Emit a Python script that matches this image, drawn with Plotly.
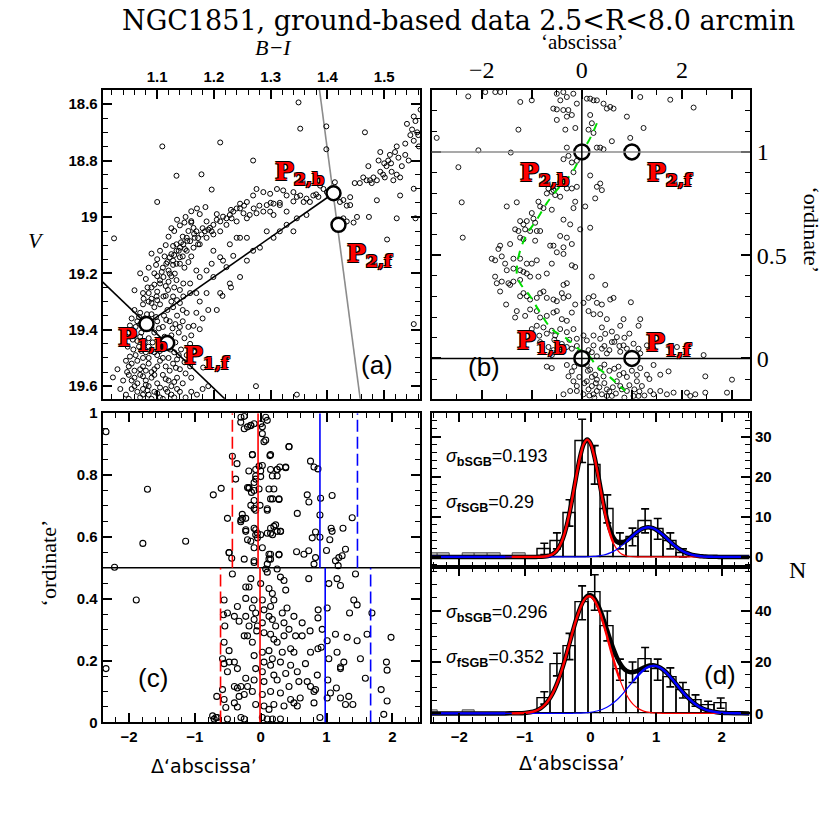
import plotly.graph_objects as go

# ---------------- DATA ----------------

# panel (a): colour-magnitude diagram, (B-I, V)
CMD_STARS = [
    (1.552, 18.644), (1.555, 18.66), (1.549, 18.69), (1.558, 18.70), (1.564, 18.62), (1.546, 18.71),
    (1.552, 18.73), (1.561, 18.75), (1.537, 18.74), (1.522, 18.75), (1.519, 18.77), (1.525, 18.79),
    (1.537, 18.78), (1.543, 18.80), (1.531, 18.82), (1.510, 18.78), (1.507, 18.80), (1.504, 18.82),
    (1.513, 18.84), (1.522, 18.85), (1.528, 18.86), (1.516, 18.87), (1.501, 18.86), (1.493, 18.84),
    (1.493, 18.77), (1.490, 18.80), (1.481, 18.86), (1.475, 18.87), (1.469, 18.87), (1.463, 18.86),
    (1.457, 18.88), (1.487, 18.87), (1.472, 18.82), (1.466, 18.70), (1.528, 18.924), (1.487, 18.941),
    (1.552, 18.90), (1.555, 19.005), (1.522, 19.005), (1.505, 19.08), (1.552, 19.38), (1.473, 19.00),
    (1.446, 19.02), (1.452, 19.00), (1.434, 18.96), (1.428, 18.94), (1.440, 18.93), (1.540, 18.67),
    (1.560, 18.71), (1.500, 18.81), (1.512, 18.81), (1.498, 18.85), (1.478, 18.88), (1.448, 18.88),
    (1.349, 18.594), (1.352, 18.687), (1.398, 18.679), (1.398, 18.76), (1.109, 18.75), (1.211, 18.736),
    (1.269, 18.80), (1.178, 18.849), (1.134, 18.854), (1.196, 18.903), (1.100, 18.947), (1.024, 19.076),
    (1.387, 18.889), (1.393, 18.901), (1.399, 18.912), (1.375, 18.924), (1.363, 18.935), (1.369, 18.947),
    (1.384, 18.929), (1.346, 18.929), (1.340, 18.912), (1.328, 18.924), (1.316, 18.958), (1.305, 18.953),
    (1.293, 18.958), (1.287, 18.912), (1.275, 18.901), (1.269, 18.924), (1.258, 18.947), (1.246, 18.953),
    (1.240, 18.970), (1.234, 18.981), (1.228, 18.993), (1.222, 19.005), (1.216, 18.999), (1.211, 19.016),
    (1.205, 19.010), (1.199, 19.028), (1.193, 19.039), (1.187, 19.016), (1.184, 19.051), (1.178, 19.062),
    (1.169, 19.051), (1.166, 19.074), (1.164, 19.039), (1.158, 19.086), (1.152, 19.074), (1.146, 19.097),
    (1.140, 19.109), (1.134, 19.120), (1.128, 19.103), (1.125, 19.132), (1.122, 19.143),
    (1.328, 18.981), (1.305, 18.993), (1.299, 18.981), (1.287, 18.981), (1.275, 18.987), (1.263, 18.993),
    (1.258, 19.005), (1.240, 19.016), (1.222, 19.028), (1.211, 19.051), (1.199, 19.062), (1.187, 19.074),
    (1.175, 19.097), (1.164, 19.109), (1.152, 19.120), (1.140, 19.143), (1.134, 19.166), (1.128, 19.155),
    (1.269, 19.120), (1.258, 19.074), (1.246, 19.074), (1.228, 19.097), (1.234, 19.138), (1.216, 19.155),
    (1.222, 19.178), (1.211, 19.143), (1.199, 19.120), (1.240, 19.074), (1.281, 19.109), (1.305, 19.074),
    (1.316, 19.051), (1.328, 19.028), (1.346, 19.005), (1.363, 18.993), (1.340, 19.051), (1.293, 19.051),
    (1.258, 19.155), (1.246, 19.213), (1.228, 19.236), (1.199, 19.213), (1.211, 19.270), (1.187, 19.270),
    (1.175, 19.213), (1.169, 19.190), (1.158, 19.270), (1.146, 19.282), (1.169, 19.340), (1.175, 19.398),
    (1.164, 19.386), (1.152, 19.340), (1.140, 19.305), (1.158, 19.236), (1.169, 19.270), (1.187, 19.190),
    (1.196, 19.166), (1.422, 18.947), (1.428, 19.005), (1.434, 19.016), (1.440, 18.958), (1.416, 18.929),
    (1.413, 18.877), (1.311, 18.901), (1.322, 18.906), (1.299, 18.918), (1.352, 18.924), (1.358, 18.947),
    (1.246, 18.970), (1.252, 18.987), (1.231, 19.005), (1.196, 19.051), (1.172, 19.097), (1.149, 19.114),
    (1.134, 19.097), (1.140, 19.166), (1.131, 19.201), (1.116, 19.166), (1.122, 19.201), (1.111, 19.213),
    (1.105, 19.236), (1.119, 19.259), (1.134, 19.224), (1.146, 19.236), (1.099, 19.282), (1.090, 19.305),
    (1.111, 19.282), (1.128, 19.282), (1.140, 19.259),
    (1.148, 19.02), (1.160, 19.015), (1.205, 18.99), (1.230, 18.975), (1.253, 18.96), (1.270, 18.97),
    (1.280, 18.96), (1.300, 18.95), (1.316, 18.95), (1.340, 18.945), (1.380, 18.92),
    (1.070, 19.20), (1.080, 19.22), (1.085, 19.18), (1.095, 19.24), (1.100, 19.21), (1.060, 19.26),
    (1.075, 19.27), (1.090, 19.29), (1.100, 19.15), (1.110, 19.18), (1.105, 19.12), (1.115, 19.10),
    (1.090, 19.13), (1.120, 19.07), (1.130, 19.05), (1.140, 19.03), (1.125, 19.04), (1.135, 19.01),
    (1.150, 19.00), (1.160, 18.98), (1.170, 18.97), (1.185, 18.965), (1.175, 18.99), (1.145, 19.07),
    (1.155, 19.05), (1.160, 19.02),
    (1.090, 19.25), (1.100, 19.265), (1.105, 19.225), (1.115, 19.245), (1.120, 19.23), (1.125, 19.21),
    (1.130, 19.25), (1.108, 19.195), (1.120, 19.19), (1.095, 19.20), (1.083, 19.25), (1.076, 19.29),
    (1.085, 19.27), (1.115, 19.28), (1.125, 19.30), (1.135, 19.295), (1.100, 19.295), (1.118, 19.16),
    (1.128, 19.17), (1.113, 19.14), (1.098, 19.17), (1.138, 19.12), (1.145, 19.14), (1.155, 19.16),
    (1.160, 19.14), (1.148, 19.18), (1.130, 19.135), (1.142, 19.09), (1.153, 19.085), (1.165, 19.06),
    (1.172, 19.075), (1.180, 19.04), (1.190, 19.045),
    (1.075, 19.31), (1.085, 19.30), (1.095, 19.32), (1.105, 19.31), (1.118, 19.33), (1.128, 19.32),
    (1.070, 19.34), (1.090, 19.345), (1.112, 19.35), (1.135, 19.35), (1.145, 19.33), (1.060, 19.33),
    (1.055, 19.36), (1.065, 19.37), (1.078, 19.36), (1.100, 19.37), (1.110, 19.39), (1.122, 19.37),
    (1.132, 19.38), (1.145, 19.37), (1.062, 19.39), (1.090, 19.395), (1.155, 19.39), (1.070, 19.38),
    (1.050, 19.41), (1.060, 19.42), (1.072, 19.41), (1.085, 19.43), (1.095, 19.41), (1.105, 19.44),
    (1.125, 19.42), (1.138, 19.41), (1.148, 19.43), (1.065, 19.44), (1.078, 19.445), (1.158, 19.45),
    (1.048, 19.46), (1.058, 19.47), (1.068, 19.46), (1.080, 19.48), (1.090, 19.47), (1.100, 19.49),
    (1.110, 19.46), (1.130, 19.48), (1.142, 19.47), (1.062, 19.49), (1.075, 19.50), (1.120, 19.50),
    (1.152, 19.49), (1.045, 19.51), (1.055, 19.52), (1.065, 19.51), (1.075, 19.53), (1.085, 19.52),
    (1.095, 19.54), (1.105, 19.51), (1.115, 19.53), (1.128, 19.52), (1.140, 19.54), (1.060, 19.545),
    (1.090, 19.55), (1.158, 19.53), (1.030, 19.54), (1.050, 19.56), (1.060, 19.57), (1.070, 19.56),
    (1.080, 19.58), (1.090, 19.57), (1.100, 19.59), (1.110, 19.56), (1.120, 19.58), (1.135, 19.57),
    (1.145, 19.59), (1.065, 19.59), (1.085, 19.60), (1.125, 19.60), (1.040, 19.58), (1.160, 19.57),
    (1.055, 19.61), (1.065, 19.62), (1.075, 19.61), (1.085, 19.63), (1.095, 19.62), (1.105, 19.64),
    (1.115, 19.61), (1.125, 19.63), (1.140, 19.62), (1.070, 19.64), (1.090, 19.645), (1.150, 19.64),
    (1.170, 19.63), (1.045, 19.63), (1.180, 19.61), (1.022, 19.569), (1.035, 19.61), (1.190, 19.60),
    (1.274, 19.60), (1.346, 19.63), (1.181, 19.534), (1.166, 19.479), (1.160, 19.42), (1.175, 19.30),
    (1.180, 19.36), (1.190, 19.33), (1.205, 19.33), (1.215, 19.28), (1.230, 19.25),
    (1.052, 19.385), (1.068, 19.355), (1.082, 19.345), (1.098, 19.355), (1.116, 19.365), (1.127, 19.395),
    (1.140, 19.39), (1.103, 19.395), (1.057, 19.435), (1.070, 19.425), (1.092, 19.445), (1.113, 19.425),
    (1.132, 19.445), (1.118, 19.455), (1.085, 19.46), (1.072, 19.475), (1.095, 19.48), (1.105, 19.475),
    (1.123, 19.47), (1.138, 19.49), (1.052, 19.495), (1.085, 19.50), (1.110, 19.50), (1.135, 19.505),
    (1.148, 19.515), (1.050, 19.53), (1.070, 19.54), (1.080, 19.545), (1.100, 19.53), (1.122, 19.545),
    (1.133, 19.535), (1.047, 19.55), (1.075, 19.565), (1.095, 19.56), (1.115, 19.575), (1.130, 19.585),
    (1.150, 19.555), (1.055, 19.58), (1.080, 19.595), (1.105, 19.605), (1.118, 19.62), (1.135, 19.61),
    (1.060, 19.60), (1.075, 19.63), (1.100, 19.625), (1.130, 19.64), (1.160, 19.62), (1.050, 19.645),
    (1.110, 19.645), (1.083, 19.615),
]

# fiducial points P1,b  P1,f  P2,b  P2,f in the CMD
P_BI = [1.0812, 1.1176, 1.4106, 1.4194]
P_V = [19.380, 19.447, 18.916, 19.028]

# straight lines in panel (a)
LINE_SGB_BI = [1.0812, 1.4106]
LINE_SGB_V = [19.380, 18.916]
LINE_P1_BI = [0.99, 1.23]
LINE_P1_V = [19.204, 19.666]
LINE_P2_BI = [1.3827, 1.4612]
LINE_P2_V = [18.50, 19.70]

# panel (b): verticalized diagram ('abscissa', 'ordinate')
VERT_STARS = [
    (-2.27, 1.269), (-1.93, 1.29), (-1.73, 1.29), (-1.63, 1.29), (-1.23, 1.242), (-1.0, 1.25),
    (-0.5, 1.282), (-0.43, 1.25), (-0.37, 1.29), (-0.3, 1.266), (-0.17, 1.282), (-0.1, 1.234),
    (-0.57, 1.21), (-0.5, 1.206), (-0.37, 1.203), (-0.27, 1.203), (-0.3, 1.171), (-0.2, 1.179),
    (-0.5, 1.155), (-0.33, 1.108), (-0.13, 1.116), (0.1, 1.258), (0.167, 1.258), (0.233, 1.25),
    (0.3, 1.25), (0.433, 1.234), (0.5, 1.21), (0.567, 1.218), (0.633, 1.21), (0.167, 1.179),
    (0.2, 1.139), (0.133, 1.108), (0.233, 1.092), (0.6, 1.052), (0.967, 1.068), (0.9, 1.171),
    (1.233, 1.116), (1.167, 1.266), (1.767, 1.253), (2.233, 1.215), (-1.267, 1.108), (-2.9, 1.068),
    (-2.067, 1.008), (-1.42, 0.997), (0.367, 1.021), (0.433, 1.013), (0.3, 1.021),
    (-2.467, 0.926), (-0.3, 1.021), (-0.267, 0.981), (-0.367, 0.965), (-0.2, 0.949), (-0.1, 0.957),
    (0.167, 0.886), (-0.167, 0.902), (0.367, 0.847), (0.4, 0.815), (0.3, 0.831), (-0.433, 0.854),
    (-0.5, 0.831), (-0.567, 0.815), (-0.6, 0.807), (-0.667, 0.823), (-0.7, 0.799), (-0.533, 0.791),
    (-0.3, 0.823), (-0.2, 0.823), (-0.1, 0.831), (-0.433, 0.783),
    (-2.4, 0.756), (-1.3, 0.756), (-1.5, 0.736), (-0.867, 0.759), (-0.833, 0.736), (-0.767, 0.728),
    (-0.6, 0.720), (-0.133, 0.759), (-0.167, 0.728), (0.067, 0.736), (0.267, 0.775), (-0.367, 0.672),
    (-0.233, 0.649), (-0.033, 0.625), (0.167, 0.633), (-1.0, 0.704), (-0.967, 0.677), (-0.933, 0.657),
    (-1.1, 0.665), (-1.167, 0.649), (-1.233, 0.665), (-1.333, 0.625), (-1.267, 0.617), (-1.133, 0.625),
    (-1.033, 0.617), (-0.9, 0.617), (-1.233, 0.585), (-1.167, 0.577), (-0.933, 0.570), (-0.833, 0.617),
    (-0.433, 0.593), (-0.3, 0.585), (-0.2, 0.554), (-2.38, 0.585), (-1.433, 0.554), (-1.633, 0.546),
    (-1.667, 0.530), (-0.633, 0.546), (-0.567, 0.546), (-0.367, 0.538),
    (-1.8, 0.483), (-1.733, 0.475), (-1.6, 0.494), (-1.533, 0.459), (-1.367, 0.483), (-1.233, 0.483),
    (-1.1, 0.459), (-1.0, 0.459), (-0.9, 0.475), (-0.6, 0.459), (-0.5, 0.514), (-0.367, 0.506),
    (-0.2, 0.451), (-0.133, 0.443), (-1.5, 0.427), (-1.367, 0.435), (-1.233, 0.427), (-1.167, 0.419),
    (-1.1, 0.411), (-1.733, 0.396), (-1.7, 0.364), (-1.6, 0.372), (-1.467, 0.364), (-1.367, 0.372),
    (-1.233, 0.380), (-1.033, 0.396), (-0.867, 0.396), (-0.7, 0.411), (0.2, 0.396), (0.467, 0.356),
    (-0.3, 0.364), (-0.367, 0.356), (-0.4, 0.316), (-1.633, 0.324), (-1.433, 0.356),
    (-1.233, 0.301), (-1.167, 0.316), (-1.1, 0.301), (-1.033, 0.285), (-0.9, 0.293), (-0.833, 0.316),
    (-0.767, 0.324), (-0.7, 0.293), (-0.567, 0.285), (-0.5, 0.277), (-0.367, 0.293), (-0.267, 0.301),
    (-1.513, 0.261), (-1.3, 0.229), (-1.333, 0.198), (-1.133, 0.206), (-1.033, 0.237), (-0.9, 0.229),
    (-0.833, 0.198), (-0.7, 0.206), (-0.567, 0.222), (-0.5, 0.229), (-0.4, 0.190), (-0.3, 0.182),
    (-0.2, 0.222), (-0.133, 0.261), (0.033, 0.269), (0.133, 0.293), (0.233, 0.301), (0.3, 0.269),
    (0.4, 0.261), (0.567, 0.285), (0.633, 0.293), (0.98, 0.272), (0.133, 0.229), (0.233, 0.214),
    (0.367, 0.214), (0.5, 0.190), (0.833, 0.190), (1.167, 0.190), (1.133, 0.158), (0.767, 0.158),
    (-1.0, 0.142), (-0.9, 0.158), (-0.767, 0.150), (-0.6, 0.134), (-0.533, 0.111), (-0.433, 0.142),
    (-0.3, 0.127), (-0.167, 0.142), (-0.1, 0.095), (0.033, 0.111), (0.1, 0.087), (0.233, 0.111),
    (0.367, 0.095), (0.467, 0.119), (0.6, 0.079), (0.7, 0.103), (0.833, 0.063), (1.033, 0.071),
    (1.133, 0.047), (1.3, 0.063), (1.433, 0.047), (1.767, 0.055), (1.9, 0.055), (2.433, 0.016),
    (-0.833, 0.079), (-0.667, 0.055), (-0.567, 0.040), (-0.433, 0.032), (-0.3, 0.055), (-0.2, 0.047),
    (0.133, 0.040), (0.233, 0.063), (0.4, 0.047), (0.5, 0.024), (0.767, 0.032), (0.9, 0.047),
    (1.167, 0.024), (-0.6, 0.016), (-0.5, 0.032),
    (-0.7, -0.040), (-0.6, -0.047), (-0.3, -0.032), (-0.2, -0.063), (-0.267, -0.087), (-0.167, -0.111),
    (-0.1, -0.134), (0.1, -0.032), (0.167, -0.055), (0.267, -0.079), (0.367, -0.047), (0.433, -0.087),
    (0.1, -0.111), (0.2, -0.134), (0.3, -0.158), (0.4, -0.174), (0.5, -0.150), (0.6, -0.182),
    (0.7, -0.111), (0.767, -0.134), (0.9, -0.158), (1.033, -0.182), (1.1, -0.111), (1.2, -0.134),
    (1.3, -0.079), (1.433, -0.032), (1.567, -0.158), (1.7, -0.174), (1.833, -0.166), (2.1, -0.166),
    (2.167, -0.182), (2.467, -0.087), (2.467, -0.166), (2.9, -0.166), (3.0, -0.103), (2.267, -0.174),
    (1.433, -0.174), (0.5, -0.182), (0.233, -0.174), (0.033, -0.174), (0.133, -0.150), (-0.1, -0.158),
    (-0.233, -0.158), (-0.367, -0.174), (1.133, -0.182), (1.367, -0.158), (0.3, -0.103), (0.833, -0.071),
    (0.733, -0.040), (1.167, -0.047), (1.567, -0.079), (1.733, -0.063),
    (0.05, -0.02), (0.12, -0.06), (0.2, -0.09), (0.28, -0.12), (0.35, -0.14), (0.45, -0.12),
    (0.55, -0.16), (0.62, -0.14), (0.68, -0.17), (0.8, -0.15), (0.85, -0.19), (0.95, -0.13),
    (1.05, -0.15), (1.15, -0.16), (1.25, -0.18), (1.35, -0.10), (0.45, -0.03), (0.55, -0.06),
    (0.65, -0.05), (0.75, -0.08), (0.9, -0.09), (1.0, -0.06), (1.1, -0.08), (0.25, -0.19),
    (0.15, -0.18), (0.05, -0.12), (-0.05, -0.09), (-0.15, -0.04), (0.1, 0.02), (0.2, 0.03),
    (0.3, 0.01), (0.45, 0.06), (0.55, 0.04), (0.65, 0.08), (0.75, 0.06), (0.85, 0.10),
    (0.95, 0.12), (1.05, 0.02), (0.6, 0.13), (0.4, 0.15), (-0.05, 0.03), (-0.1, 0.06),
    (-0.25, 0.09), (-0.4, 0.07), (-0.55, 0.09), (-0.7, 0.12), (-0.85, 0.11),
]

# fiducial points in panel (b)
PV_ABS = [0.0, 1.0, 0.0, 1.0]
PV_ORD = [0.0, 0.0, 1.0, 1.0]

# green fiducial line in panel (b)
FID_ABS = [0.30, 0.233, 0.133, 0.0, -0.1, -0.233, -0.367, -0.5, -0.7, -0.9, -1.1, -1.233, -1.287,
           -1.3, -1.233, -1.033, -0.833, -0.6, -0.3, -0.033, 0.133, 0.3, 0.567, 0.867]
FID_ORD = [1.139, 1.100, 1.052, 1.0, 0.941, 0.886, 0.854, 0.815, 0.752, 0.672, 0.601, 0.522, 0.459,
           0.411, 0.364, 0.301, 0.222, 0.142, 0.095, 0.040, 0.016, -0.040, -0.092, -0.158]

# panel (c): delta abscissa vs ordinate
DELTA_STARS = [
    (-2.35, 0.94), (-1.72, 0.754), (-1.79, 0.579), (-1.14, 0.586), (-0.72, 0.736), (-0.60, 0.757),
    (-0.505, 0.660), (-0.48, 0.549), (-0.44, 0.531), (-0.43, 0.480), (-0.43, 0.861), (-0.36, 0.837),
    (-0.38, 0.787), (-0.30, 0.987), (-0.25, 0.99), (-0.2, 0.956), (-0.15, 0.96), (-0.1, 0.966),
    (-0.126, 0.866), (-0.18, 0.813), (-0.2, 0.760), (-0.18, 0.757), (-0.14, 0.744), (-0.1, 0.776),
    (-0.076, 0.797), (-0.1, 0.718), (-0.076, 0.686), (-0.15, 0.702), (-0.28, 0.673), (-0.30, 0.655),
    (-0.227, 0.660), (-0.227, 0.623), (-0.2, 0.591), (-0.1, 0.628), (-0.076, 0.607), (-0.05, 0.597),
    (0.0, 0.607), (0.025, 0.565), (-0.1, 0.523), (0.0, 0.966), (0.025, 0.934), (0.076, 0.913),
    (0.025, 0.831), (0.0, 0.795), (-0.01, 0.702), (0.1, 0.691), (0.126, 0.755), (0.14, 0.863),
    (0.15, 0.818), (0.18, 0.723), (0.2, 0.755), (0.25, 0.818), (0.25, 0.797), (0.278, 0.723),
    (0.29, 0.826), (0.38, 0.826), (0.43, 0.892), (0.1, 0.612), (0.15, 0.628), (0.18, 0.607),
    (0.2, 0.634), (0.25, 0.618), (0.30, 0.618), (0.15, 0.544), (0.15, 0.528), (0.1, 0.512),
    (0.278, 0.544), (0.25, 0.496), (0.556, 0.676), (0.545, 0.552), (0.657, 0.544), (0.73, 0.555),
    (0.81, 0.512), (0.833, 0.533), (0.757, 0.845), (0.81, 0.826), (0.87, 0.820), (0.707, 0.736),
    (0.732, 0.713), (0.91, 0.725), (0.90, 0.671), (0.833, 0.616), (0.783, 0.597), (1.0, 0.556),
    (1.05, 0.591), (1.07, 0.628), (1.085, 0.618), (1.085, 0.734), (1.136, 0.523), (1.187, 0.533),
    (1.237, 0.539), (1.288, 0.560), (1.25, 0.628), (1.39, 0.662), (1.177, 0.507), (0.9, 0.599),
    (-0.303, 0.971), (-0.15, 0.961), (-0.25, 0.95), (0.025, 0.956), (0.076, 0.987), (0.1, 0.977),
    (0.05, 0.908), (0.43, 0.892), (-0.126, 0.866), (0.15, 0.866), (-0.025, 0.829), (0.0, 0.813),
    (-0.076, 0.818), (0.25, 0.818), (0.38, 0.824), (0.177, 0.797), (-0.076, 0.787), (-0.177, 0.760),
    (-0.025, 0.755), (-0.1, 0.75), (0.15, 0.723), (0.278, 0.721), (-0.278, 0.66), (-0.303, 0.649),
    (-0.1, 0.692), (0.1, 0.686), (-0.076, 0.623), (-0.05, 0.612), (0.15, 0.612), (0.227, 0.639),
    (0.303, 0.618), (-0.227, 0.618), (-0.15, 0.586), (-0.1, 0.565), (0.126, 0.544), (0.126, 0.528),
    (-0.1, 0.517), (0.278, 0.542), (-0.25, 0.528), (-0.48, 0.549),
    (-2.22, 0.502), (-1.89, 0.396), (-2.35, 0.174), (-0.556, 0.396), (-0.566, 0.348), (-0.505, 0.354),
    (-0.354, 0.375), (-0.4, 0.343), (-0.328, 0.327), (-0.556, 0.259), (-0.48, 0.232), (-0.58, 0.206),
    (-0.556, 0.19), (-0.4, 0.195), (-0.354, 0.174), (-0.505, 0.164), (-0.4, 0.116), (-0.354, 0.111),
    (-0.3, 0.116), (-0.25, 0.09), (-0.328, 0.084), (-0.4, 0.063), (-0.53, 0.048), (-0.354, 0.05),
    (-0.3, 0.016), (-0.25, 0.011), (-0.505, 0.011), (-0.657, 0.016), (-0.707, 0.011), (-0.667, 0.084),
    (-0.2, 0.116), (-0.227, 0.143), (-0.25, 0.280), (-0.2, 0.280), (-0.177, 0.312), (-0.227, 0.343),
    (-0.227, 0.401), (-0.177, 0.438), (-0.227, 0.438), (-0.15, 0.465), (-0.1, 0.396), (-0.126, 0.37),
    (-0.1, 0.333), (-0.076, 0.354), (-0.05, 0.312), (-0.06, 0.296), (-0.126, 0.259), (-0.1, 0.216),
    (-0.076, 0.174), (-0.1, 0.137), (-0.126, 0.1), (-0.076, 0.058), (0.0, 0.449), (0.025, 0.396),
    (0.05, 0.364), (0.025, 0.322), (0.05, 0.29), (0.025, 0.227), (0.05, 0.195), (0.025, 0.164),
    (0.05, 0.132), (0.025, 0.09), (0.05, 0.053), (0.025, 0.016), (0.1, 0.011), (0.18, 0.011),
    (0.30, 0.011), (0.076, 0.496), (0.1, 0.486), (0.126, 0.433), (0.177, 0.417), (0.2, 0.396),
    (0.15, 0.375), (0.126, 0.343), (0.177, 0.333), (0.227, 0.312), (0.15, 0.285), (0.2, 0.269),
    (0.25, 0.259), (0.126, 0.232), (0.177, 0.206), (0.15, 0.185), (0.2, 0.153), (0.25, 0.137),
    (0.15, 0.1), (0.2, 0.058), (0.126, 0.042), (0.30, 0.47), (0.354, 0.459), (0.38, 0.428),
    (0.4, 0.37), (0.328, 0.354), (0.354, 0.322), (0.43, 0.301), (0.354, 0.28), (0.455, 0.238),
    (0.328, 0.227), (0.30, 0.195), (0.455, 0.185), (0.38, 0.158), (0.43, 0.116), (0.30, 0.095),
    (0.455, 0.074), (0.354, 0.053), (0.505, 0.343), (0.53, 0.28), (0.505, 0.227), (0.556, 0.164),
    (0.58, 0.132), (0.505, 0.063), (0.556, 0.053), (0.63, 0.322), (0.63, 0.28), (0.6, 0.079),
    (0.68, 0.19), (0.707, 0.132), (0.73, 0.465), (0.75, 0.296), (0.757, 0.227), (0.757, 0.116),
    (0.81, 0.1), (0.81, 0.063), (0.86, 0.153), (0.87, 0.338), (0.873, 0.364), (0.833, 0.106),
    (0.87, 0.238), (0.9, 0.016), (0.934, 0.301), (0.92, 0.243), (1.035, 0.449), (1.01, 0.264),
    (1.035, 0.206), (1.02, 0.137), (1.01, 0.079), (1.06, 0.095), (1.136, 0.285), (1.16, 0.227),
    (1.212, 0.174), (1.15, 0.111), (1.212, 0.079), (1.263, 0.195), (1.288, 0.058), (1.313, 0.275),
    (1.338, 0.084), (1.35, 0.354), (1.40, 0.058), (1.414, 0.396), (1.44, 0.48), (1.465, 0.38),
    (1.465, 0.264), (1.515, 0.206), (1.59, 0.143), (1.616, 0.285), (1.69, 0.354), (1.83, 0.106),
    (1.87, 0.026), (1.91, 0.195), (1.92, 0.169), (1.92, 0.069), (1.98, 0.275), (1.16, 0.465),
    (1.212, 0.443), (1.01, 0.37), (1.212, 0.179), (-0.58, 0.106), (-0.556, 0.074), (-0.545, 0.312),
    (-0.48, 0.195), (-0.68, 0.016), (-0.73, 0.021),
]

# Gaussian centres (solid) and 2-sigma limits (dashed) for upper / lower halves of panel (c)
UPPER_LINES = {"red_mid": -0.04, "red_lim": -0.43, "blue_mid": 0.90, "blue_lim": 1.47}
LOWER_LINES = {"red_mid": -0.01, "red_lim": -0.61, "blue_mid": 0.98, "blue_lim": 1.67}

# panel (d): histograms
BIN_WIDTH = 0.192
TOP_BIN_X = [-0.704, -0.512, -0.32, -0.128, 0.064, 0.256, 0.448, 0.64, 0.832, 1.024, 1.216, 1.408]
TOP_N = [2, 4, 11, 29, 23, 12, 4, 5, 9, 7, 4, 1]
TOP_ERR = [1.4, 2.0, 3.3, 5.4, 4.8, 3.5, 2.0, 2.2, 3.0, 2.6, 2.0, 1.0]
TOP_GRAY_X = [-2.432, -2.24, -1.856, -1.664, -1.472, -1.088]
TOP_GRAY_N = [1, 1, 1, 1, 1, 1]

BOT_BIN_X = [-0.704, -0.512, -0.32, -0.128, 0.064, 0.256, 0.448, 0.64, 0.832, 1.024, 1.216, 1.408,
             1.6, 1.792, 1.984]
BOT_N = [6, 19, 26, 43, 47, 34, 17, 16, 21, 17, 14, 9, 5, 3, 4]
BOT_ERR = [2.4, 4.4, 5.1, 6.6, 6.9, 5.8, 4.1, 4.0, 4.6, 4.1, 3.7, 3.0, 2.2, 1.7, 2.0]
BOT_GRAY_X = [-2.432, -1.856]
BOT_GRAY_N = [1, 1]

# fitted curves (on a common grid)
CURVE_X = [-2.42, -1.3, -1.2, -1.1,
           -1.0, -0.95, -0.9, -0.85, -0.8, -0.75, -0.7, -0.65, -0.6, -0.55, -0.5, -0.45, -0.4, -0.35,
           -0.3, -0.25, -0.2, -0.15, -0.1, -0.05, 0.0, 0.05, 0.1, 0.15, 0.2, 0.25, 0.3, 0.35, 0.4,
           0.45, 0.5, 0.55, 0.6, 0.65, 0.7, 0.75, 0.8, 0.85, 0.9, 0.95, 1.0, 1.05, 1.1, 1.15, 1.2,
           1.25, 1.3, 1.35, 1.4, 1.45, 1.5, 1.55, 1.6, 1.65, 1.7, 1.75, 1.8, 1.85, 1.9, 1.95, 2.0,
           2.1, 2.2, 2.3, 2.42]

TOP_RED = [0, 0, 0, 0,
           0, 0, 0, 0.005, 0.015, 0.04, 0.1, 0.23, 0.5, 1.02, 1.93, 3.42, 5.66, 8.75,
           12.66, 17.13, 21.66, 25.62, 28.33, 29.3, 28.33, 25.62, 21.66, 17.13, 12.66, 8.75, 5.66, 3.42, 1.93,
           1.02, 0.5, 0.23, 0.1, 0.04, 0.015, 0.005, 0, 0, 0, 0, 0, 0, 0, 0, 0,
           0, 0, 0, 0, 0, 0, 0, 0, 0, 0, 0, 0, 0, 0, 0, 0,
           0, 0, 0, 0]
TOP_BLUE = [0, 0, 0, 0,
            0, 0, 0, 0, 0, 0, 0, 0, 0, 0, 0, 0, 0.001, 0.001,
            0.002, 0.004, 0.007, 0.013, 0.024, 0.043, 0.074, 0.123, 0.199, 0.31, 0.474, 0.70, 1.0, 1.39, 1.88,
            2.47, 3.14, 3.87, 4.64, 5.4, 6.1, 6.69, 7.12, 7.36, 7.38, 7.19, 6.79, 6.23, 5.55, 4.8, 4.03,
            3.28, 2.59, 1.99, 1.48, 1.07, 0.75, 0.51, 0.34, 0.22, 0.14, 0.08, 0.05, 0.03, 0.015, 0.008, 0.004,
            0, 0, 0, 0]
TOP_TOTAL = [0, 0, 0, 0,
             0, 0, 0, 0.005, 0.015, 0.04, 0.1, 0.23, 0.5, 1.02, 1.93, 3.42, 5.66, 8.75,
             12.66, 17.13, 21.67, 25.63, 28.35, 29.34, 28.4, 25.74, 21.86, 17.44, 13.13, 9.45, 6.66, 4.81, 3.81,
             3.49, 3.64, 4.1, 4.74, 5.44, 6.12, 6.7, 7.12, 7.36, 7.38, 7.19, 6.79, 6.23, 5.55, 4.8, 4.03,
             3.28, 2.59, 1.99, 1.48, 1.07, 0.75, 0.51, 0.34, 0.22, 0.14, 0.08, 0.05, 0.03, 0.015, 0.008, 0.004,
             0, 0, 0, 0]

BOT_RED = [0, 0.004, 0.016, 0.059,
           0.19, 0.33, 0.55, 0.89, 1.41, 2.18, 3.26, 4.73, 6.68, 9.18, 12.24, 15.87, 20.0, 24.49,
           29.15, 33.72, 37.9, 41.4, 43.96, 45.37, 45.5, 44.34, 42.0, 38.66, 34.59, 30.08, 25.42, 20.88, 16.66,
           12.92, 9.74, 7.14, 5.08, 3.52, 2.37, 1.55, 0.98, 0.61, 0.36, 0.21, 0.12, 0.066, 0.035, 0.018, 0.009,
           0.004, 0, 0, 0, 0, 0, 0, 0, 0, 0, 0, 0, 0, 0, 0, 0,
           0, 0, 0, 0]
BOT_BLUE = [0, 0, 0, 0,
            0, 0, 0, 0, 0, 0, 0, 0, 0, 0, 0.003, 0.006, 0.011, 0.018,
            0.031, 0.05, 0.081, 0.128, 0.2, 0.3, 0.45, 0.65, 0.93, 1.31, 1.8, 2.42, 3.19, 4.12, 5.22,
            6.47, 7.88, 9.39, 10.97, 12.55, 14.08, 15.48, 16.68, 17.62, 18.23, 18.49, 18.38, 17.9, 17.09, 15.99, 14.66,
            13.18, 11.6, 10.01, 8.47, 7.02, 5.7, 4.54, 3.54, 2.71, 2.03, 1.49, 1.07, 0.76, 0.52, 0.35, 0.23,
            0.1, 0.037, 0.013, 0]
BOT_TOTAL = [0, 0.004, 0.016, 0.059,
             0.19, 0.33, 0.55, 0.89, 1.41, 2.18, 3.26, 4.73, 6.68, 9.18, 12.24, 15.88, 20.01, 24.51,
             29.18, 33.77, 37.98, 41.53, 44.16, 45.67, 45.95, 44.99, 42.93, 39.97, 36.39, 32.5, 28.61, 25.0, 21.88,
             19.39, 17.62, 16.53, 16.05, 16.07, 16.45, 17.03, 17.66, 18.23, 18.59, 18.7, 18.5, 17.97, 17.13, 16.01, 14.67,
             13.18, 11.6, 10.01, 8.47, 7.02, 5.7, 4.54, 3.54, 2.71, 2.03, 1.49, 1.07, 0.76, 0.52, 0.35, 0.23,
             0.1, 0.037, 0.013, 0]

SIGMA_TEXT = [("bSGB", "0.193"), ("fSGB", "0.29"), ("bSGB", "0.296"), ("fSGB", "0.352")]

# ---------------- STYLE ----------------

W = H = 830
RED = "#ff0000"
BLUE = "#0000ff"
GREEN = "#00dd00"
GRAY = "#8c8c8c"
SANS = "Liberation Sans"
SERIF = "Liberation Serif"
OUTLINE = "1px 1px 0 #000, -1px -1px 0 #000, 1px -1px 0 #000, -1px 1px 0 #000"


def px(x):
    return x / W


def py(y):
    return 1 - y / H


def axis(**kw):
    d = dict(
        showline=True, linecolor="black", linewidth=2, mirror="ticks",
        ticks="inside", ticklen=9, tickwidth=1.5, tickcolor="black",
        showgrid=False, zeroline=False,
        tickfont=dict(family=SANS, size=15, color="black", weight="bold"),
    )
    d.update(kw)
    return d


def minor(dt):
    return dict(dtick=dt, ticks="inside", ticklen=5, tickwidth=1.2, tickcolor="black", showgrid=False)


X_AC = [px(102.7), px(420)]
X_BD = [px(431.7), px(750)]
Y_AB = [py(398), py(82.7)]
Y_C = [py(728.3), py(412.7)]
Y_DT = [py(570), py(412.7)]
Y_DB = [py(728.3), py(570)]

fig = go.Figure()

# ---- panel (a)
for bx, vy, col in [(LINE_SGB_BI, LINE_SGB_V, "black"), (LINE_P1_BI, LINE_P1_V, "black"),
                    (LINE_P2_BI, LINE_P2_V, GRAY)]:
    fig.add_trace(go.Scatter(x=bx, y=vy, mode="lines", line=dict(color=col, width=1.6),
                             xaxis="x", yaxis="y", showlegend=False, hoverinfo="skip"))
fig.add_trace(go.Scatter(
    x=[s[0] for s in CMD_STARS], y=[s[1] for s in CMD_STARS], mode="markers",
    marker=dict(symbol="circle-open", size=5, color="black", line=dict(width=1)),
    xaxis="x", yaxis="y", showlegend=False))
fig.add_trace(go.Scatter(
    x=P_BI, y=P_V, mode="markers",
    marker=dict(symbol="circle", size=14, color="white", line=dict(color="black", width=2.5)),
    xaxis="x", yaxis="y", showlegend=False))

# ---- panel (b)
fig.add_trace(go.Scatter(
    x=[s[0] for s in VERT_STARS], y=[s[1] for s in VERT_STARS], mode="markers",
    marker=dict(symbol="circle-open", size=5, color="black", line=dict(width=0.9)),
    xaxis="x2", yaxis="y2", showlegend=False))
fig.add_trace(go.Scatter(
    x=FID_ABS, y=FID_ORD, mode="lines", line=dict(color=GREEN, width=2, dash="8px,7px", shape="spline"),
    xaxis="x2", yaxis="y2", showlegend=False))
fig.add_trace(go.Scatter(
    x=PV_ABS, y=PV_ORD, mode="markers",
    marker=dict(symbol="circle", size=15, color="white", line=dict(color="black", width=2.5)),
    xaxis="x2", yaxis="y2", showlegend=False))

# ---- panel (c)
fig.add_trace(go.Scatter(
    x=[s[0] for s in DELTA_STARS], y=[s[1] for s in DELTA_STARS], mode="markers",
    marker=dict(symbol="circle-open", size=6, color="black", line=dict(width=1.1)),
    xaxis="x3", yaxis="y3", showlegend=False))

# ---- panel (d)
for xa, ya, bx, n, err, gx, gn, red, blue, tot, red_cut, blue_cut in [
    ("x4", "y4", TOP_BIN_X, TOP_N, TOP_ERR, TOP_GRAY_X, TOP_GRAY_N, TOP_RED, TOP_BLUE, TOP_TOTAL, 0.35, 0.55),
    ("x5", "y5", BOT_BIN_X, BOT_N, BOT_ERR, BOT_GRAY_X, BOT_GRAY_N, BOT_RED, BOT_BLUE, BOT_TOTAL, 0.45, 0.65),
]:
    fig.add_trace(go.Bar(x=gx, y=gn, width=BIN_WIDTH, marker=dict(color="#c4c4c4", line=dict(color="#555", width=1)),
                         xaxis=xa, yaxis=ya, showlegend=False))
    fig.add_trace(go.Bar(x=bx, y=n, width=BIN_WIDTH,
                         marker=dict(color="rgba(0,0,0,0)", line=dict(color="black", width=1.4)),
                         error_y=dict(type="data", array=err, color="black", thickness=1.6, width=4),
                         xaxis=xa, yaxis=ya, showlegend=False))
    fig.add_trace(go.Scatter(x=CURVE_X, y=tot, mode="lines", line=dict(color="black", width=4.5, shape="spline"),
                             xaxis=xa, yaxis=ya, showlegend=False))
    fig.add_trace(go.Scatter(x=CURVE_X, y=red, mode="lines", line=dict(color=RED, width=1.2, shape="spline"),
                             xaxis=xa, yaxis=ya, showlegend=False))
    fig.add_trace(go.Scatter(x=CURVE_X, y=blue, mode="lines", line=dict(color=BLUE, width=1.2, shape="spline"),
                             xaxis=xa, yaxis=ya, showlegend=False))
    red_thick = [r if -1.25 <= xv <= red_cut else None for xv, r in zip(CURVE_X, red)]
    blue_thick = [b if (xv >= blue_cut or xv < -1.25) else None for xv, b in zip(CURVE_X, blue)]
    fig.add_trace(go.Scatter(x=CURVE_X, y=red_thick, mode="lines", line=dict(color=RED, width=2.4, shape="spline"),
                             xaxis=xa, yaxis=ya, showlegend=False))
    fig.add_trace(go.Scatter(x=CURVE_X, y=blue_thick, mode="lines", line=dict(color=BLUE, width=2.4, shape="spline"),
                             xaxis=xa, yaxis=ya, showlegend=False))

# ---- shapes
shapes = [
    dict(type="line", xref="x2 domain", yref="y2", x0=0, x1=1, y0=0, y1=0, line=dict(color="black", width=1.5)),
    dict(type="line", xref="x2 domain", yref="y2", x0=0, x1=1, y0=1, y1=1, line=dict(color=GRAY, width=1.5)),
    dict(type="line", xref="x2", yref="y2 domain", x0=0, x1=0, y0=0, y1=1, line=dict(color="black", width=1.5)),
    dict(type="line", xref="x3 domain", yref="y3", x0=0, x1=1, y0=0.5, y1=0.5, line=dict(color="black", width=1.5)),
]
for lines, y0, y1 in [(UPPER_LINES, 0.5, 1.0), (LOWER_LINES, 0.0, 0.5)]:
    for key, col, dash in [("red_mid", RED, "solid"), ("red_lim", RED, "12px,5px"),
                           ("blue_mid", BLUE, "solid"), ("blue_lim", BLUE, "12px,5px")]:
        shapes.append(dict(type="line", xref="x3", yref="y3", x0=lines[key], x1=lines[key], y0=y0, y1=y1,
                           line=dict(color=col, width=1.6, dash=dash)))

# ---- annotations
ann = []


def text(x, y, s, size, family=SERIF, color="black", angle=0, xanchor="center", yanchor="middle", **font_kw):
    ann.append(dict(x=px(x), y=py(y), xref="paper", yref="paper", text=s, showarrow=False,
                    textangle=angle, xanchor=xanchor, yanchor=yanchor,
                    font=dict(family=family, size=size, color=color, **font_kw)))


text(458, 12, "NGC1851, ground-based data 2.5&lt;R&lt;8.0 arcmin", 27, family="DejaVu Serif")
text(273, 39, "<i>B−I</i>", 22)
text(582, 34, "‘abscissa’", 21)
text(36, 236, "<i>V</i>", 22)
text(48, 566, "‘ordinate’", 22, angle=-90)
text(812, 225, "‘ordinate’", 22, angle=90)
text(204, 773, "Δ‘abscissa’", 19, family="DejaVu Sans")
text(572, 770, "Δ‘abscissa’", 19, family="DejaVu Sans")
text(797, 573, "N", 24)
text(377, 363, "(a)", 26, family=SANS)
text(484, 365, "(b)", 26, family=SANS)
text(153, 683, "(c)", 26, family=SANS)
text(720, 680, "(d)", 26, family=SANS)

for (sub, val), yy in zip(SIGMA_TEXT, [458, 505, 617, 663]):
    text(444, yy, "<i>σ</i><sub><b>%s</b></sub>=%s" % (sub, val), 18, family=SANS, xanchor="left")

for xx, yy, sub in [(273, 161, "2,b"), (345, 245, "2,f"), (116, 331, "1,b"), (182, 349, "1,f"),
                    (518, 162, "2,b"), (645, 162, "2,f"), (515, 334, "1,b"), (644, 336, "1,f")]:
    text(xx, yy + 6, "P<sub>%s</sub>" % sub, 25, family="DejaVu Serif", color=RED, xanchor="left",
         weight="bold", shadow=OUTLINE)

fig.update_layout(
    width=W, height=H, margin=dict(l=0, r=0, t=0, b=0),
    paper_bgcolor="white", plot_bgcolor="white", barmode="overlay", bargap=0,
    shapes=shapes, annotations=ann,
    xaxis=axis(domain=X_AC, anchor="y", side="top", range=[1.004, 1.563], tick0=1.0, dtick=0.1, minor=minor(0.02)),
    yaxis=axis(domain=Y_AB, anchor="x", range=[19.645, 18.55], tick0=18.6, dtick=0.2, minor=minor(0.05)),
    xaxis2=axis(domain=X_BD, anchor="y2", side="top", range=[-3.0, 3.36],
                tickvals=[-3, -2, -1, 0, 1, 2, 3], ticktext=["", "−2", "", "0", "", "2", ""],
                tickfont=dict(family=SERIF, size=24, color="black"), minor=minor(0.5)),
    yaxis2=axis(domain=Y_AB, anchor="x2", side="right", range=[-0.196, 1.3], tickvals=[0, 0.5, 1],
                tickfont=dict(family=SERIF, size=24, color="black"), minor=minor(0.1)),
    xaxis3=axis(domain=X_AC, anchor="y3", range=[-2.4, 2.42], dtick=1, minor=minor(0.2)),
    yaxis3=axis(domain=Y_C, anchor="x3", range=[0, 1], dtick=0.2, minor=minor(0.05)),
    xaxis4=axis(domain=X_BD, anchor="y4", range=[-2.42, 2.43], dtick=1, showticklabels=False, minor=minor(0.2)),
    yaxis4=axis(domain=Y_DT, anchor="x4", side="right", range=[-2.6, 35.9], dtick=10, minor=minor(2)),
    xaxis5=axis(domain=X_BD, anchor="y5", range=[-2.42, 2.43], dtick=1, minor=minor(0.2)),
    yaxis5=axis(domain=Y_DB, anchor="x5", side="right", range=[-3.5, 56.8], dtick=20, minor=minor(5)),
)

fig.write_html("out.html", post_script="document.body.style.margin='0px';",
               config={"displayModeBar": False})
